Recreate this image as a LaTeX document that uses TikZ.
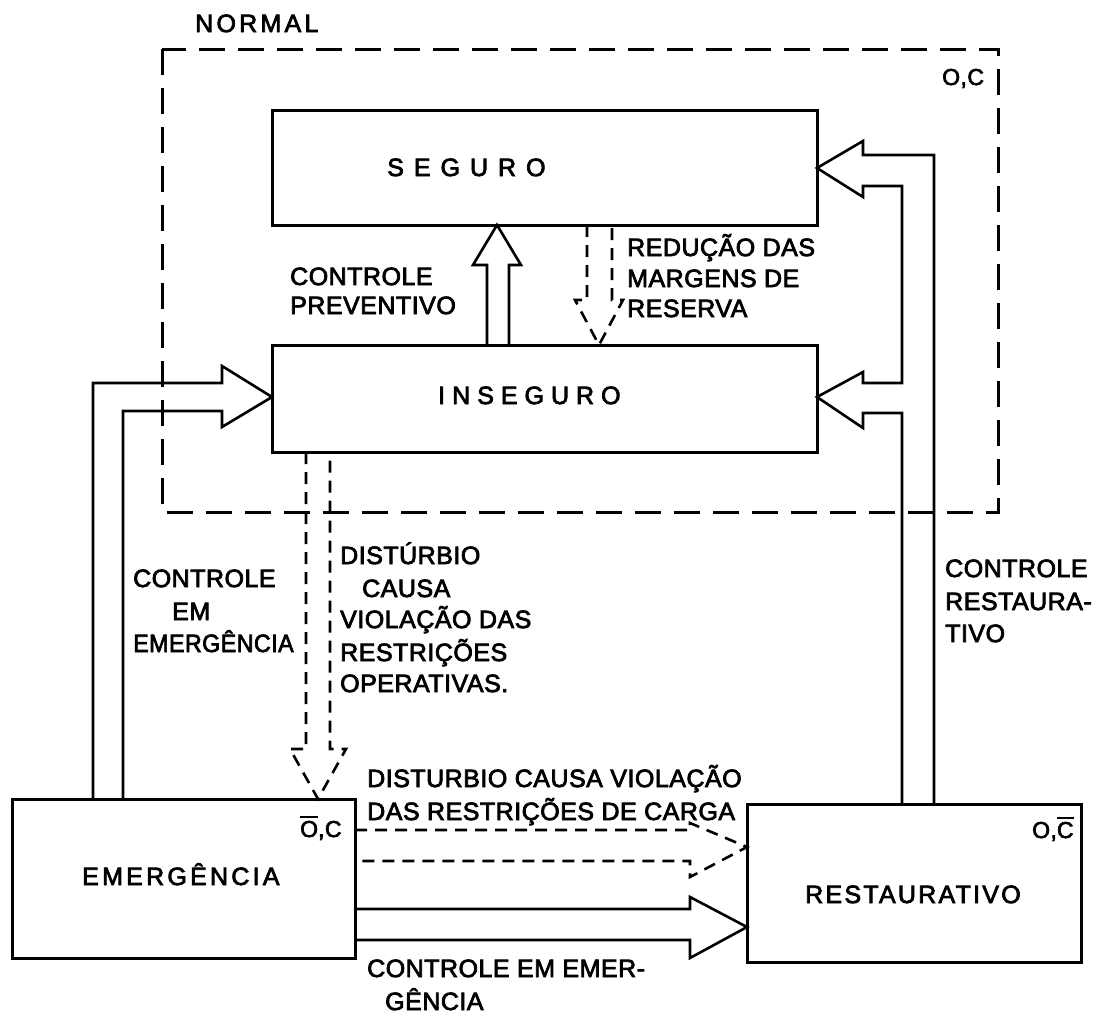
\documentclass[tikz,border=0pt]{standalone}
\usepackage{graphicx}
\usepackage{fontspec}
\setmainfont[FakeBold=3]{Liberation Sans}
\newfontfamily\spA[LetterSpace=40,FakeBold=3]{Liberation Sans}
\newfontfamily\spB[LetterSpace=28,FakeBold=3]{Liberation Sans}
\newfontfamily\spC[LetterSpace=13,FakeBold=3]{Liberation Sans}
\newfontfamily\spD[LetterSpace=9,FakeBold=3]{Liberation Sans}
\newfontfamily\spE[LetterSpace=2,FakeBold=3]{Liberation Sans}
\newcommand\ovl[1]{\leavevmode\vbox{\hrule height 2.5pt\kern 2.5pt\hbox{#1}}}
\begin{document}
\begin{tikzpicture}[x=1pt,y=-1pt,
  box/.style={draw,line width=3pt,rectangle,inner sep=0pt},
  arr/.style={draw,line width=2.6pt,line join=miter},
  darr/.style={draw,line width=2.6pt,dash pattern=on 12pt off 8pt},
  nbox/.style={draw,line width=3pt,dash pattern=on 26pt off 13pt},
  lbl/.style={inner sep=0pt,anchor=base west,font=\spE\fontsize{25}{30}\selectfont},
  small/.style={inner sep=0pt,anchor=base west,font=\spE\fontsize{23}{28}\selectfont}]
\useasboundingbox (0,0) rectangle (1111,1015);
% NORMAL region
\draw[nbox] (162,49) rectangle (998,512);
\node[lbl,font=\spC\fontsize{25}{30}\selectfont] (normal) at (195,32) {NORMAL};
\node[small] (oc) at (942,85) {O,C};
% boxes
\node[box,minimum width=545pt,minimum height=115pt] (seg) at (544.5,167.5) {};
\node[box,minimum width=545pt,minimum height=107pt] (ins) at (544.5,398.5) {};
\node[box,minimum width=343pt,minimum height=159pt] (eme) at (183.5,878.5) {};
\node[box,minimum width=334pt,minimum height=158pt] (res) at (914,883) {};
\node[lbl,font=\spA\fontsize{25}{30}\selectfont] (tseg) at (387,176) {SEGURO};
\node[lbl,font=\spB\fontsize{25}{30}\selectfont] (tins) at (438,404) {INSEGURO};
\node[lbl,font=\spC\fontsize{25}{30}\selectfont] (teme) at (82,885) {EMERGÊNCIA};
\node[lbl,font=\spD\fontsize{25}{30}\selectfont] (tres) at (805,903) {RESTAURATIVO};
\node[small] (oce) at (300,837) {\ovl{O},C};
\node[small] (ocr) at (1032,838) {O,\ovl{C}};
% controle preventivo (up)
\draw[arr] (487,345) -- (487,265) -- (473,265) -- (497,225) -- (521,265) -- (509,265) -- (509,345);
% reducao margens (dashed down)
\draw[darr] (587,225) -- (587,300) -- (575,300) -- (599,345) -- (623,300) -- (612,300) -- (612,225);
% disturbio operativas (dashed down to emergencia)
\draw[darr] (306,452) -- (306,749) -- (290,749) -- (318,799) -- (346,749) -- (330,749) -- (330,452);
% controle em emergencia (to inseguro)
\draw[arr] (93,799) -- (93,383) -- (222,383) -- (222,366) -- (272,397) -- (222,427) -- (222,411) -- (123,411) -- (123,799);
% controle restaurativo (to seguro and inseguro)
\draw[arr] (934,804) -- (934,155) -- (863,155) -- (863,141) -- (817,168) -- (863,197) -- (863,186)
  -- (902,186) -- (902,383) -- (863,383) -- (863,372) -- (817,397) -- (863,428) -- (863,413) -- (902,413) -- (902,804);
% dashed horizontal (emergencia -> restaurativo)
\draw[darr] (355,830) -- (690,830) -- (690,823) -- (747,847) -- (690,877) -- (690,861) -- (355,861);
% solid horizontal (emergencia -> restaurativo)
\draw[arr] (355,909) -- (690,909) -- (690,897) -- (747,927) -- (690,958) -- (690,940) -- (355,940);
% labels
\node[lbl] (cp1) at (290,285) {CONTROLE};
\node[lbl] (cp2) at (290,314) {PREVENTIVO};
\node[lbl] (rm1) at (627,256) {REDUÇÃO DAS};
\node[lbl] (rm2) at (627,287) {MARGENS DE};
\node[lbl] (rm3) at (627,317) {RESERVA};
\node[lbl] (do1) at (340,564) {DISTÚRBIO};
\node[lbl] (do2) at (362,597) {CAUSA};
\node[lbl] (do3) at (340,628) {VIOLAÇÃO DAS};
\node[lbl] (do4) at (340,661) {RESTRIÇÕES};
\node[lbl] (do5) at (340,692) {OPERATIVAS.};
\node[lbl] (ce1) at (133,587) {CONTROLE};
\node[lbl] (ce2) at (172,620) {EM};
\node[lbl] (ce3) at (133,652) {\scalebox{0.93}[1]{EMERGÊNCIA}};
\node[lbl] (cr1) at (945,577) {CONTROLE};
\node[lbl] (cr2) at (945,610) {RESTAURA-};
\node[lbl] (cr3) at (945,642) {TIVO};
\node[lbl] (dc1) at (367,787) {DISTURBIO CAUSA VIOLAÇÃO};
\node[lbl] (dc2) at (367,820) {DAS RESTRIÇÕES DE CARGA};
\node[lbl] (cm1) at (367,977) {CONTROLE EM EMER-};
\node[lbl] (cm2) at (385,1010) {GÊNCIA};
\end{tikzpicture}
\end{document}
